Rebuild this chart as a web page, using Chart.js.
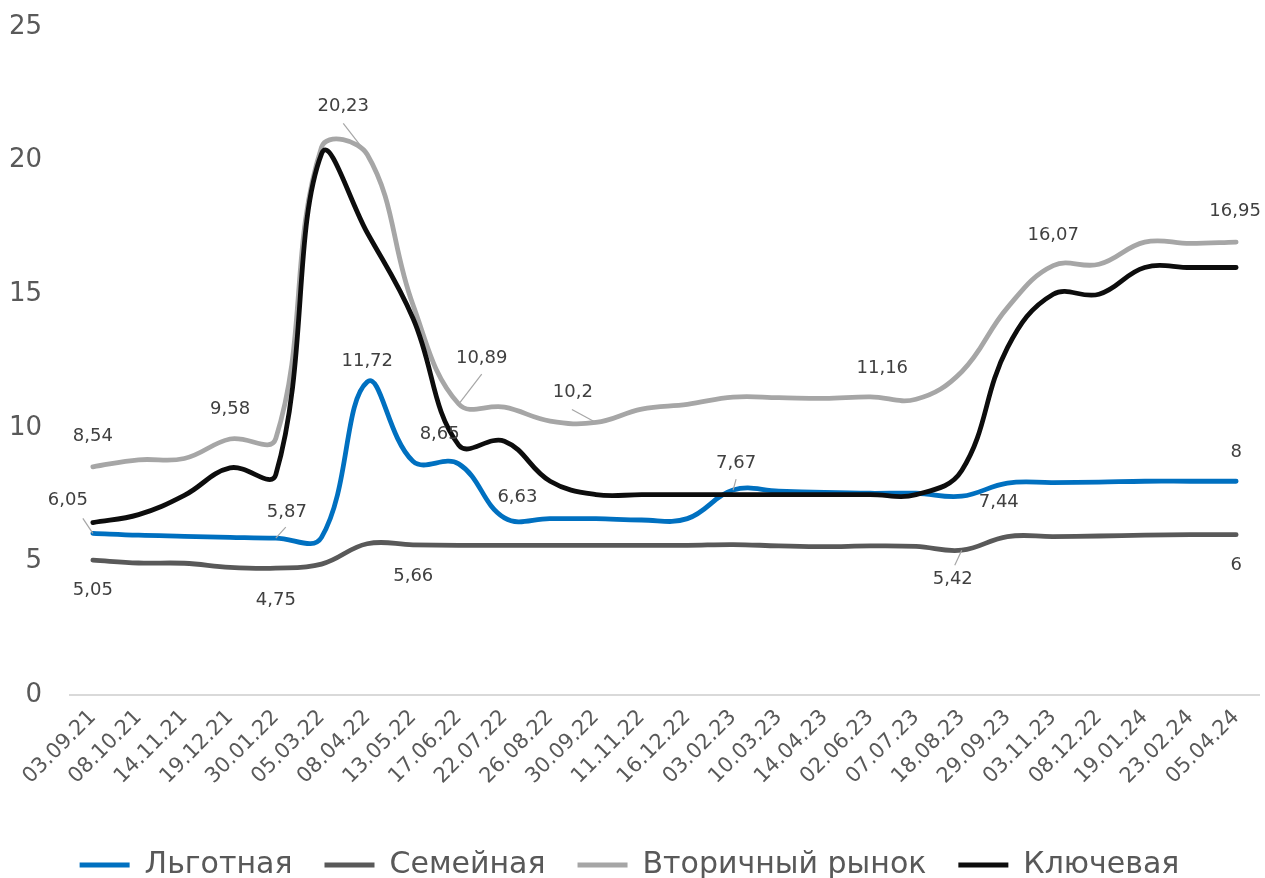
<!DOCTYPE html>
<html lang="ru">
<head>
<meta charset="utf-8">
<script src="https://cdn.jsdelivr.net/npm/chart.js@4.4.1/dist/chart.umd.min.js"></script>
<style>
  html, body { margin: 0; padding: 0; background: #fff; }
  .chart-box { width: 1265px; height: 878px; position: relative; }
</style>
</head>
<body>
<div class="chart-box"><canvas id="rates"></canvas></div>
<script>
const dates = [
  "03.09.21", "08.10.21", "14.11.21", "19.12.21", "30.01.22", "05.03.22",
  "08.04.22", "13.05.22", "17.06.22", "22.07.22", "26.08.22", "30.09.22",
  "11.11.22", "16.12.22", "03.02.23", "10.03.23", "14.04.23", "02.06.23",
  "07.07.23", "18.08.23", "29.09.23", "03.11.23", "08.12.22", "19.01.24",
  "23.02.24", "05.04.24"
];

// Льготная
const preferential = [6.05, 5.98, 5.94, 5.9, 5.87, 5.9, 11.72, 8.75, 8.65, 6.63, 6.6, 6.6,
  6.55, 6.6, 7.67, 7.63, 7.58, 7.55, 7.55, 7.44, 7.93, 7.95, 7.97, 8, 8, 8];
// Семейная
const family = [5.05, 4.94, 4.93, 4.78, 4.75, 4.9, 5.66, 5.62, 5.6, 5.6, 5.6, 5.6,
  5.6, 5.6, 5.63, 5.58, 5.55, 5.58, 5.56, 5.42, 5.93, 5.93, 5.95, 5.98, 6, 6];
// Вторичный рынок
const secondary = [8.54, 8.8, 8.85, 9.58, 9.6, 20.5, 20.23, 14.6, 10.89, 10.77, 10.25, 10.2,
  10.7, 10.88, 11.15, 11.13, 11.1, 11.16, 11.07, 12.1, 14.5, 16.07, 16.12, 16.95, 16.9, 16.95];
// Ключевая
const keyRate = [6.45, 6.75, 7.47, 8.5, 8.25, 20.25, 17.3, 14.1, 9.35, 9.5, 8, 7.5,
  7.5, 7.5, 7.5, 7.5, 7.5, 7.5, 7.5, 8.4, 13, 15, 15, 16, 16, 16];

const yTicks = [0, 5, 10, 15, 20, 25];

// which points carry a value label, and where the label sits (offsets in px)
const pointLabels = [
  { ds: 2, i: 0, dx: 0, dy: -30 },
  { ds: 0, i: 0, dx: -25, dy: -33, lead: [-10, -15] },
  { ds: 1, i: 0, dx: 0, dy: 30 },
  { ds: 2, i: 3, dx: 0, dy: -30 },
  { ds: 0, i: 4, dx: 11, dy: -26, lead: [10, -11] },
  { ds: 1, i: 4, dx: 0, dy: 32 },
  { ds: 2, i: 6, dx: -24, dy: -48, lead: [-24, -31] },
  { ds: 0, i: 6, dx: 0, dy: -21 },
  { ds: 1, i: 6, dx: 46, dy: 33 },
  { ds: 0, i: 8, dx: -19, dy: -30 },
  { ds: 2, i: 8, dx: 23, dy: -46, lead: [23, -30] },
  { ds: 0, i: 9, dx: 13, dy: -21 },
  { ds: 2, i: 11, dx: -23, dy: -30, lead: [-24, -13] },
  { ds: 0, i: 14, dx: 3, dy: -27, lead: [3, -11] },
  { ds: 2, i: 17, dx: 12, dy: -28 },
  { ds: 0, i: 19, dx: 37, dy: 6 },
  { ds: 1, i: 19, dx: -9, dy: 29, lead: [-7, 15] },
  { ds: 2, i: 21, dx: 0, dy: -30 },
  { ds: 2, i: 25, dx: -1, dy: -31 },
  { ds: 0, i: 25, dx: 0, dy: -29 },
  { ds: 1, i: 25, dx: 0, dy: 31 }
];

const FONT = "'DejaVu Sans', sans-serif";
const fmt = (v) => String(v).replace(".", ",");

const valueLabels = {
  id: "valueLabels",
  afterDatasetsDraw(chart) {
    const ctx = chart.ctx;
    ctx.save();
    ctx.font = "18px " + FONT;
    ctx.textAlign = "center";
    ctx.textBaseline = "middle";
    pointLabels.forEach((l) => {
      const pt = chart.getDatasetMeta(l.ds).data[l.i];
      if (!pt) return;
      if (l.lead) {
        ctx.strokeStyle = "#a6a6a6";
        ctx.lineWidth = 1.2;
        ctx.beginPath();
        ctx.moveTo(pt.x + l.lead[0], pt.y + l.lead[1]);
        ctx.lineTo(pt.x, pt.y);
        ctx.stroke();
      }
      ctx.fillStyle = "#404040";
      ctx.fillText(fmt(chart.data.datasets[l.ds].data[l.i]), pt.x + l.dx, pt.y + l.dy);
    });
    ctx.restore();
  }
};

function line(label, data, color, order) {
  return {
    label: label,
    data: data,
    borderColor: color,
    backgroundColor: color,
    borderWidth: 4.8,
    borderCapStyle: "round",
    pointRadius: 0,
    pointHoverRadius: 0,
    tension: 0.4,
    order: order
  };
}

new Chart(document.getElementById("rates"), {
  type: "line",
  data: {
    labels: dates,
    datasets: [
      line("Льготная", preferential, "#0070c0", 1),
      line("Семейная", family, "#595959", 3),
      line("Вторичный рынок", secondary, "#a6a6a6", 2),
      line("Ключевая", keyRate, "#0d0d0d", 0)
    ]
  },
  options: {
    responsive: true,
    maintainAspectRatio: false,
    animation: false,
    layout: { padding: { top: 0, right: 6, left: 0, bottom: -12 } },
    plugins: {
      tooltip: { enabled: false },
      legend: {
        position: "bottom",
        labels: {
          usePointStyle: true,
          pointStyle: "line",
          pointStyleWidth: 50,
          boxHeight: 5,
          padding: 32,
          color: "#595959",
          font: { family: FONT, size: 30 },
          sort: (a, b) => a.datasetIndex - b.datasetIndex
        }
      }
    },
    scales: {
      x: {
        offset: true,
        grid: { display: false },
        border: { display: true, color: "#d9d9d9", width: 2 },
        ticks: {
          color: "#595959",
          font: { family: FONT, size: 21 },
          minRotation: 45,
          maxRotation: 45,
          autoSkip: false,
          padding: 2
        },
        afterFit: (s) => { s.height = 123; }
      },
      y: {
        min: 0,
        max: 25,
        grid: { display: false },
        border: { display: false },
        afterBuildTicks: (s) => { s.ticks = yTicks.map((v) => ({ value: v })); },
        ticks: {
          color: "#595959",
          font: { family: FONT, size: 26 },
          padding: 20
        },
        afterFit: (s) => {
          s.width = 70;
          s.paddingTop = 27;
          s.paddingBottom = 0;
        }
      }
    }
  },
  plugins: [valueLabels]
});
</script>
</body>
</html>
